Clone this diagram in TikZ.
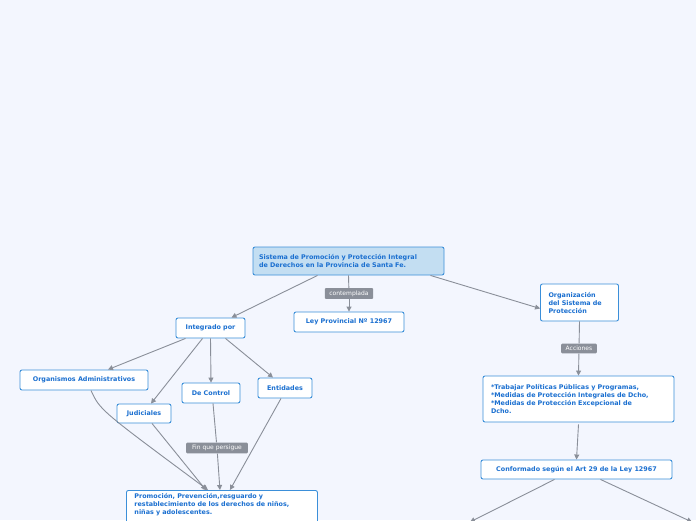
\documentclass[tikz,border=0pt]{standalone}
\usepackage{fontspec}
\setmainfont{DejaVu Sans}
\usetikzlibrary{arrows.meta}
\definecolor{bgblue}{HTML}{F3F6FE}
\definecolor{boxline}{HTML}{3B8FD9}
\definecolor{boxtext}{HTML}{1A6FD0}
\definecolor{rootfill}{HTML}{C3DEF2}
\definecolor{edgegray}{HTML}{8A8F99}
\tikzset{
  concept/.style={draw=boxline, line width=0.9pt, rounded corners=2pt, fill=white,
    text=boxtext, font=\fontsize{6.4}{8}\selectfont\bfseries, align=left, inner xsep=6pt, inner ysep=3pt},
  edgelabel/.style={fill=edgegray, text=white, rounded corners=1pt,
    font=\fontsize{6}{7}\selectfont, inner xsep=4.5pt, inner ysep=2.5pt},
  link/.style={draw=edgegray, line width=0.9pt, -{Triangle[length=5pt,width=5pt]}}
}
\begin{document}
\begin{tikzpicture}[x=1pt,y=-1pt]
		\fill[bgblue] (0,0) rectangle (696,520);
		\useasboundingbox (0,0) rectangle (696,520);
		\clip (0,0) rectangle (696,520);
		% Nodos principales
		\node[concept, fill=rootfill, minimum width=191pt, minimum height=28pt, text width=179pt] (root) at (348.5,261) {Sistema de Promoción y Protección Integral\\de Derechos en la Provincia de Santa Fe.};
		\node[concept, minimum width=110pt, minimum height=20pt] (ley) at (349,322) {Ley Provincial Nº 12967};
		\node[concept, minimum width=69pt, minimum height=20pt] (integ) at (210.5,328) {Integrado por};
		\node[concept, minimum width=128pt, minimum height=20pt] (orgadm) at (84,380) {Organismos Administrativos};
		\node[concept, minimum width=54pt, minimum height=19pt] (judic) at (144,413.5) {Judiciales};
		\node[concept, minimum width=58pt, minimum height=20pt] (control) at (211,393) {De Control};
		\node[concept, minimum width=54pt, minimum height=20pt] (entid) at (285,388) {Entidades};
		\node[concept, anchor=north west, text width=175pt, inner xsep=8pt] (promo) at (126,490) {Promoción, Prevención,resguardo y\\restablecimiento de los derechos de niños,\\niñas y adolescentes.\\~};
		\node[concept, minimum width=77pt, minimum height=37pt, text width=62pt, inner xsep=8pt] (organiz) at (579.5,302.5) {Organización\\del Sistema de\\Protección};
		\node[concept, minimum width=191pt, minimum height=46pt, text width=175pt, inner xsep=8pt] (acciones) at (578.5,399) {*Trabajar Políticas Públicas y Programas,\\{*}Medidas de Protección Integrales de Dcho,\\{*}Medidas de Protección Excepcional de\\Dcho.};
		\node[concept, minimum width=191pt, minimum height=19pt] (conform) at (576.5,469.5) {Conformado según el Art 29 de la Ley 12967};
		% Etiquetas
		\node[edgelabel] (lcont) at (349,293.5) {contemplada};
		\node[edgelabel] (lacc) at (579,348.5) {Acciones};
		\node[edgelabel, inner xsep=6pt] (lfin) at (217,448) {Fin que persigue};
		\coordinate (offl) at (470,522);
		\coordinate (offr) at (692,522);
		% Conectores
		\draw[link] ([xshift=-31pt]root.south) -- ([xshift=21pt]integ.north);
		\draw[edgegray, line width=0.9pt] (root.south) -- (lcont);
		\draw[link] (lcont) -- (ley);
		\draw[link] ([xshift=82pt]root.south) -- ([yshift=-6pt]organiz.west);
		\draw[link] ([xshift=-25pt]integ.south) -- ([xshift=24pt]orgadm.north);
		\draw[link] ([xshift=-8pt]integ.south) -- ([xshift=7pt]judic.north);
		\draw[link] (integ.south) -- (control.north);
		\draw[link] ([xshift=15pt]integ.south) -- ([xshift=-12pt]entid.north);
		\draw[link] ([xshift=7pt]orgadm.south) .. controls (100,410) .. ([xshift=-14pt]promo.north);
		\draw[link] ([xshift=8pt]judic.south) -- ([xshift=-16pt]promo.north);
		\draw[edgegray, line width=0.9pt] ([xshift=2pt]control.south) -- (lfin);
		\draw[link] (lfin) -- ([xshift=-2pt]promo.north);
		\draw[link] ([xshift=-4pt]entid.south) -- ([xshift=8pt]promo.north);
		\draw[edgegray, line width=0.9pt] (organiz.south) -- (lacc);
		\draw[link] (lacc) -- (acciones.north);
		\draw[link] ([yshift=-2pt]acciones.south) -- (conform.north);
		\draw[link] ([xshift=-22pt]conform.south) -- (offl);
		\draw[link] ([xshift=24pt]conform.south) -- (offr);
	\end{tikzpicture}
\end{document}
